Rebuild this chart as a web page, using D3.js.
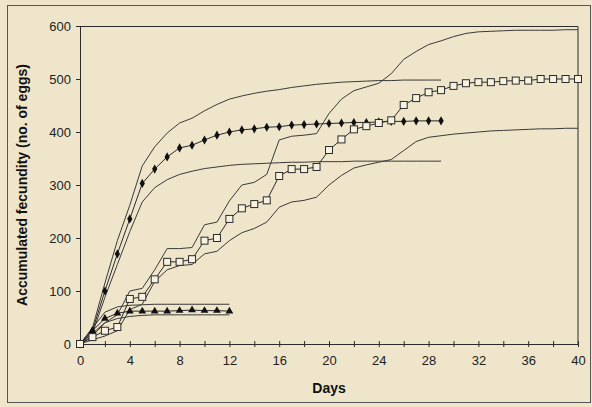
<!DOCTYPE html>
<html>
<head>
<meta charset="utf-8">
<script src="https://cdn.jsdelivr.net/npm/d3@7"></script>
<style>
  body { margin: 0; background: #efe5ca; }
  svg { display: block; }
</style>
</head>
<body>
<svg id="chart" width="592" height="407"></svg>
<script>
// Days 0..n for each series
const diamondMean = [0, 25, 100, 170, 236, 303, 330, 353, 370, 375, 385, 394, 400, 404, 406, 409, 410, 413, 414, 415, 416, 417, 418, 418, 419, 420, 420, 421, 421, 421];
const diamondUpper = [0, 30, 115, 195, 262, 336, 372, 398, 417, 426, 440, 452, 462, 468, 473, 477, 480, 484, 487, 490, 492, 494, 495, 496, 497, 497, 498, 498, 498, 498];
const diamondLower = [0, 20, 88, 150, 212, 268, 295, 310, 320, 326, 331, 334, 337, 339, 340, 341, 342, 343, 343, 344, 344, 344, 345, 345, 345, 345, 345, 345, 345, 345];

const squareMean = [0, 13, 25, 32, 85, 89, 122, 155, 155, 160, 195, 200, 236, 256, 264, 271, 317, 330, 330, 334, 366, 386, 405, 411, 417, 422, 451, 464, 475, 479, 487, 492, 494, 494, 496, 497, 497, 500, 500, 500, 500];
const squareUpper = [0, 20, 40, 55, 100, 105, 140, 180, 180, 182, 225, 230, 270, 300, 305, 320, 385, 392, 394, 397, 435, 462, 478, 485, 492, 510, 537, 552, 565, 572, 580, 586, 589, 590, 591, 592, 592, 592, 592, 593, 593];
const squareLower = [0, 8, 15, 25, 65, 75, 118, 140, 148, 150, 170, 175, 195, 210, 218, 230, 258, 268, 271, 277, 300, 318, 332, 338, 343, 348, 365, 382, 390, 393, 396, 398, 400, 402, 403, 404, 405, 406, 406, 407, 407];

const triangleMean = [0, 25, 48, 58, 62, 62, 62, 62, 63, 64, 63, 63, 62];
const triangleUpper = [0, 30, 60, 70, 73, 74, 75, 75, 75, 75, 75, 75, 75];
const triangleLower = [0, 15, 40, 48, 52, 54, 55, 55, 55, 55, 55, 55, 55];

const xTicks = [0, 4, 8, 12, 16, 20, 24, 28, 32, 36, 40];
const yTicks = [0, 100, 200, 300, 400, 500, 600];

const svg = d3.select("#chart");
const margin = { top: 26, right: 14, bottom: 63, left: 80 };
const width = +svg.attr("width");
const height = +svg.attr("height");
const innerWidth = width - margin.left - margin.right;
const innerHeight = height - margin.top - margin.bottom;
const ink = "#2b2b2b";
const paper = "#efe5ca";

svg.append("rect")
  .attr("x", 7.5).attr("y", 5.5)
  .attr("width", 583).attr("height", 397)
  .attr("fill", paper)
  .attr("stroke", "#555").attr("stroke-width", 1);

const g = svg.append("g")
  .attr("transform", `translate(${margin.left}, ${margin.top})`);

const x = d3.scaleLinear().domain([0, 40]).range([0, innerWidth]);
const y = d3.scaleLinear().domain([0, 600]).range([innerHeight, 0]);

// plot frame: top and right
g.append("path")
  .attr("d", `M0,0.5H${innerWidth}V${innerHeight}`)
  .attr("fill", "none")
  .attr("stroke", ink);

// minor + major ticks crossing the x axis
const xAxis = g.append("g")
  .attr("transform", `translate(0, ${innerHeight})`)
  .call(d3.axisBottom(x).tickValues(d3.range(0, 41, 2)).tickSize(3));
xAxis.selectAll(".tick text").remove();
xAxis.selectAll(".tick line").attr("y1", -3);

g.append("g")
  .attr("transform", `translate(0, ${innerHeight})`)
  .call(d3.axisBottom(x).tickValues(xTicks).tickSize(0).tickPadding(12))
  .call(a => a.select(".domain").remove());

g.append("g")
  .call(d3.axisLeft(y).tickValues(yTicks).tickSize(4).tickPadding(5));

g.selectAll(".domain, .tick line").attr("stroke", ink);
g.selectAll(".tick text")
  .attr("font-family", "Liberation Sans, Arial, sans-serif")
  .attr("font-size", "13px")
  .attr("fill", "#222");

const line = d3.line()
  .x((d, i) => x(i))
  .y(d => y(d));

const bands = [diamondUpper, diamondLower, squareUpper, squareLower, triangleUpper, triangleLower];
g.selectAll(".band")
  .data(bands)
  .enter()
  .append("path")
  .attr("class", "band")
  .attr("d", line)
  .attr("fill", "none")
  .attr("stroke", "#3a3a3a")
  .attr("stroke-width", 1);

[triangleMean, diamondMean, squareMean].forEach(s => {
  g.append("path")
    .attr("d", line(s))
    .attr("fill", "none")
    .attr("stroke", ink)
    .attr("stroke-width", 1);
});

const diamond = d3.symbol().type(d3.symbolDiamond).size(24);
g.selectAll(".dia")
  .data(diamondMean)
  .enter()
  .append("path")
  .attr("transform", (d, i) => `translate(${x(i)}, ${y(d)})`)
  .attr("d", diamond)
  .attr("fill", "#111");

const tri = d3.symbol().type(d3.symbolTriangle).size(26);
g.selectAll(".tri")
  .data(triangleMean)
  .enter()
  .append("path")
  .attr("transform", (d, i) => `translate(${x(i)}, ${y(d)})`)
  .attr("d", tri)
  .attr("fill", "#111");

g.selectAll(".sq")
  .data(squareMean)
  .enter()
  .append("rect")
  .attr("x", (d, i) => x(i) - 3.5)
  .attr("y", d => y(d) - 3.5)
  .attr("width", 7)
  .attr("height", 7)
  .attr("fill", "#f7f1df")
  .attr("stroke", ink)
  .attr("stroke-width", 1);

g.append("text")
  .attr("x", innerWidth / 2)
  .attr("y", innerHeight + 49)
  .attr("text-anchor", "middle")
  .attr("font-family", "Liberation Sans, Arial, sans-serif")
  .attr("font-size", "14px")
  .attr("font-weight", "bold")
  .attr("fill", "#111")
  .text("Days");

g.append("text")
  .attr("transform", "rotate(-90)")
  .attr("x", -innerHeight / 2)
  .attr("y", -53)
  .attr("text-anchor", "middle")
  .attr("font-family", "Liberation Sans, Arial, sans-serif")
  .attr("font-size", "14px")
  .attr("font-weight", "bold")
  .attr("fill", "#111")
  .text("Accumulated fecundity (no. of eggs)");
</script>
</body>
</html>
